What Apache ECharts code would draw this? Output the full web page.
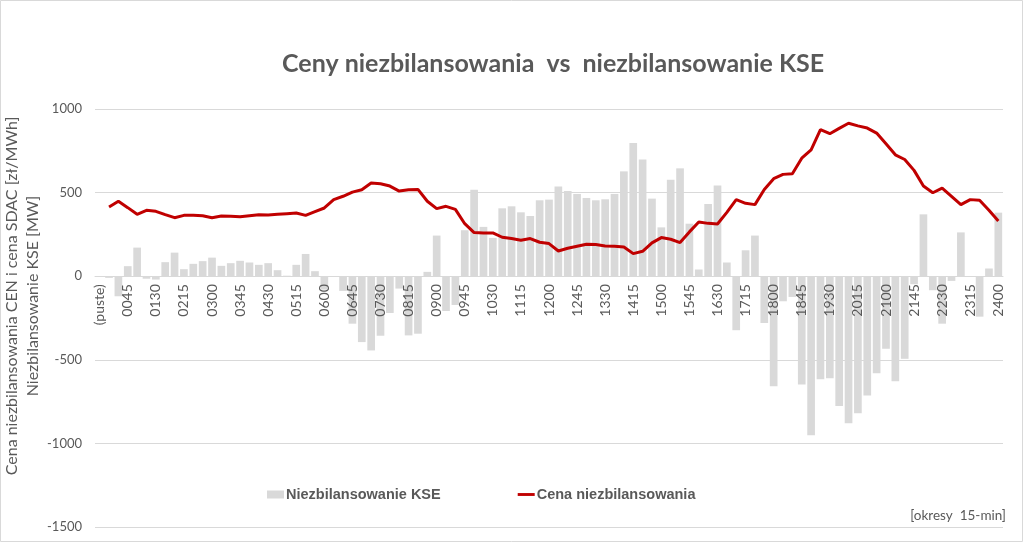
<!DOCTYPE html>
<html>
<head>
<meta charset="utf-8">
<script src="https://cdn.jsdelivr.net/npm/echarts@6/dist/echarts.min.js"></script>
<style>
html,body{margin:0;padding:0;background:#fff;}
#chart{width:1024px;height:543px;}
</style>
</head>
<body>
<div id="chart"></div>
<script>
const categories = ['(puste)',
 '0015','0030','0045','0100','0115','0130','0145','0200','0215','0230','0245','0300',
 '0315','0330','0345','0400','0415','0430','0445','0500','0515','0530','0545','0600',
 '0615','0630','0645','0700','0715','0730','0745','0800','0815','0830','0845','0900',
 '0915','0930','0945','1000','1015','1030','1045','1100','1115','1130','1145','1200',
 '1215','1230','1245','1300','1315','1330','1345','1400','1415','1430','1445','1500',
 '1515','1530','1545','1600','1615','1630','1645','1700','1715','1730','1745','1800',
 '1815','1830','1845','1900','1915','1930','1945','2000','2015','2030','2045','2100',
 '2115','2130','2145','2200','2215','2230','2245','2300','2315','2330','2345','2400'];

const imbalanceKSE = [null,
 -10,-120,60,171,-15,-20,84,141,42,74,90,111,
 62,78,92,82,68,78,36,3,68,133,30,-80,
 0,-88,-284,-394,-444,-356,-220,-74,-354,-344,26,243,
 -208,-172,275,517,295,229,406,418,382,360,454,458,
 537,509,492,468,454,460,492,627,796,698,464,292,
 577,645,314,40,432,543,82,-323,155,243,-280,-658,
 -150,-124,-648,-952,-616,-610,-776,-880,-820,-714,-580,-434,
 -628,-494,-48,370,-84,-284,-28,262,0,-242,46,380];

const imbalancePrice = [null,
 414,448,410,370,394,388,368,350,364,364,362,350,
 360,358,356,362,368,366,370,374,378,364,386,408,
 458,478,503,517,557,553,539,509,517,519,448,404,
 418,400,314,261,259,259,233,225,215,225,203,195,
 151,167,179,191,189,181,179,175,135,149,199,231,
 221,201,265,324,316,312,382,458,436,428,519,583,
 609,613,706,756,876,852,884,915,899,886,856,792,
 726,698,633,539,499,527,478,428,458,454,394,330];

const yTicks = {min: -1500, max: 1000, interval: 500};

const W = 1024, H = 543;
const gridTop = 109, gridBottom = 16;
const plotH = H - gridTop - gridBottom;
const zeroOffset = -plotH * (0 - yTicks.min) / (yTicks.max - yTicks.min);

const chart = echarts.init(document.getElementById('chart'), null, {renderer: 'canvas'});
const txt = '#595959';
chart.setOption({
  animation: false,
  backgroundColor: '#fff',
  title: {
    text: 'Ceny niezbilansowania  vs  niezbilansowanie KSE',
    left: 277, top: 46,
    textStyle: {fontFamily: 'Lato', fontWeight: 'bold', fontSize: 25, color: txt}
  },
  legend: {
    left: 262, top: 482,
    itemWidth: 17, itemHeight: 8, itemGap: 77,
    textStyle: {fontFamily: 'Liberation Sans', fontWeight: 'bold', fontSize: 14.5, color: txt, padding: [0,0,0,-3]},
    data: [
      {name: 'Niezbilansowanie KSE', icon: 'rect'},
      {name: 'Cena niezbilansowania', icon: 'path://M0,0H20V3.4H0Z'}
    ]
  },
  grid: {left: 95, right: 21, top: gridTop, bottom: gridBottom, containLabel: false, outerBoundsMode: 'none'},
  xAxis: {
    type: 'category',
    data: categories,
    position: 'bottom',
    offset: zeroOffset,
    z: 10,
    axisLine: {onZero: false, lineStyle: {color: '#d9d9d9', width: 1}},
    axisTick: {show: false},
    axisLabel: {interval: 2, rotate: 90, margin: 8, fontFamily: 'Lato', fontSize: 14, color: txt}
  },
  yAxis: {
    type: 'value',
    min: yTicks.min, max: yTicks.max, interval: yTicks.interval,
    axisLine: {show: false},
    axisTick: {show: false},
    axisLabel: {margin: 13, fontFamily: 'Lato', fontSize: 13, color: txt, formatter: v => String(v)},
    splitLine: {lineStyle: {color: '#d9d9d9', width: 1}}
  },
  graphic: [
    {type: 'rect', shape: {x: 0.5, y: 0.5, width: 1022, height: 541},
     style: {fill: 'none', stroke: '#d9d9d9', lineWidth: 1}, silent: true},
    {type: 'text', x: 22, y: 296, rotation: Math.PI/2,
     style: {text: 'Cena niezbilansowania CEN i cena SDAC [zł/MWh]\nNiezbilansowanie KSE [MW]',
       fontFamily: 'Lato', fontSize: 16, fill: txt, align: 'center', verticalAlign: 'middle', lineHeight: 21}},
    {type: 'text', right: 18, top: 509,
     style: {text: '[okresy  15-min]', fontFamily: 'Lato', fontSize: 13.5, fill: txt}}
  ],
  series: [
    {
      name: 'Niezbilansowanie KSE', type: 'bar',
      data: imbalanceKSE,
      barCategoryGap: '18%',
      itemStyle: {color: '#d9d9d9'},
      z: 1
    },
    {
      name: 'Cena niezbilansowania', type: 'line',
      data: imbalancePrice,
      symbol: 'none',
      lineStyle: {color: '#c00000', width: 3},
      itemStyle: {color: '#c00000'},
      z: 3
    }
  ]
});
</script>
</body>
</html>
